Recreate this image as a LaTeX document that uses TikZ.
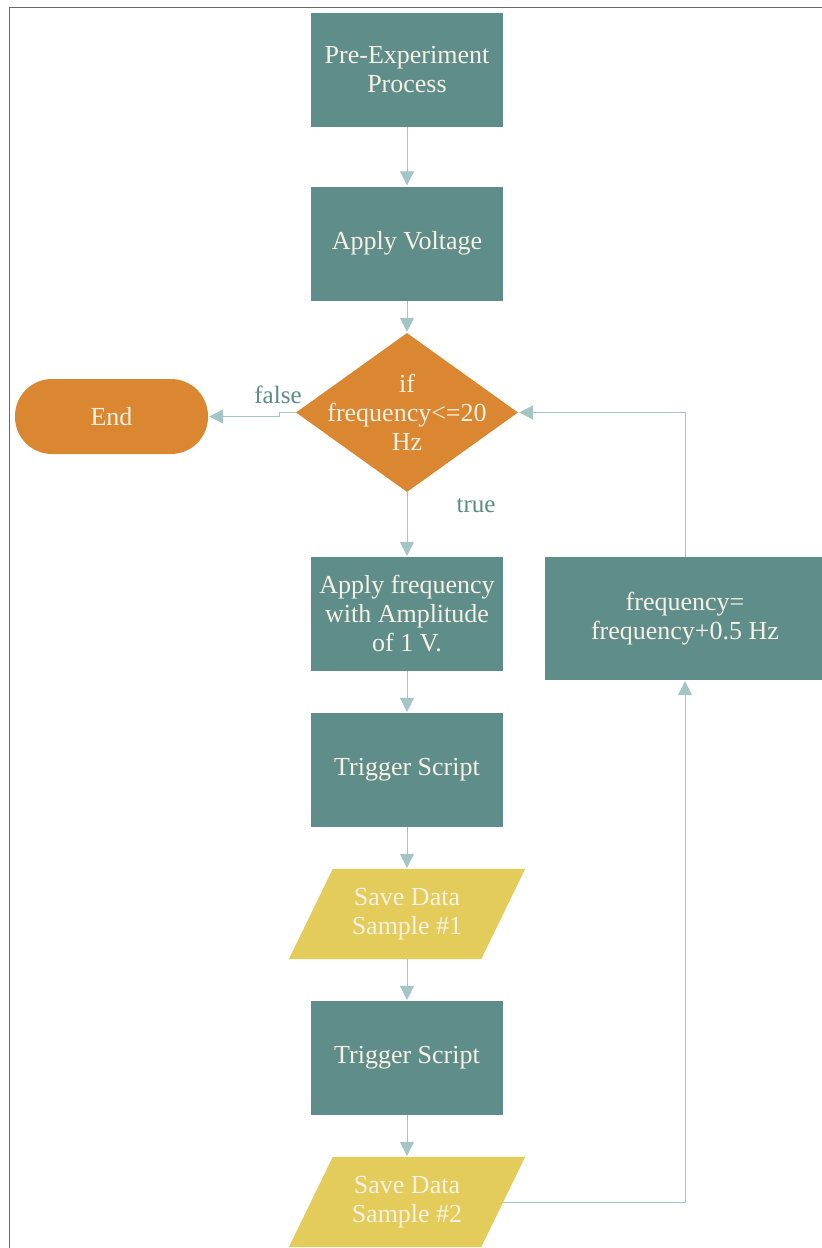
\documentclass[tikz,border=0pt]{standalone}
\usepackage{fontspec}
\setmainfont{Liberation Serif}
\usetikzlibrary{arrows.meta,shapes.geometric,calc}

\definecolor{teal}{HTML}{5F8D89}
\definecolor{amber}{HTML}{DB8731}
\definecolor{mustard}{HTML}{E3CC5A}
\definecolor{wire}{HTML}{A3C5C3}
\definecolor{labelteal}{HTML}{5B8B87}
\definecolor{cream}{HTML}{F6F1E4}
\definecolor{frame}{HTML}{6A6A6A}

\tikzset{
  boxtext/.style={text=cream, font=\fontsize{26}{29}\selectfont, align=center, inner sep=0pt},
  procbox/.style={boxtext, rectangle, fill=teal, minimum width=192pt, minimum height=114pt},
  decision/.style={diamond, fill=amber, inner sep=0pt, minimum width=222pt, minimum height=159pt},
  terminal/.style={boxtext, rectangle, fill=amber, rounded corners=37pt, minimum width=193pt, minimum height=75pt},
  iobox/.style={boxtext, rectangle, minimum width=192pt, minimum height=90pt},
  flowline/.style={draw=wire, line width=1pt, -{Triangle[width=14pt,length=14pt]}, shorten >=1pt},
  edgelabel/.style={text=labelteal, font=\fontsize{25}{29}\selectfont, inner sep=0pt}
}

\begin{document}
\begin{tikzpicture}[x=1pt, y=-1pt]
  \useasboundingbox (0,0) rectangle (822,1248);
  \fill[white] (0,0) rectangle (822,1248);
  \begin{scope}
    \clip (0,0) rectangle (822,1248);

    % outer frame (left and top edges)
    \draw[frame, line width=1.8pt] (9.5,1248) -- (9.5,7.5) -- (822,7.5);

    % main column
    \node[procbox] (pre) at (407,70) {Pre-Experiment\\Process};
    \node[procbox] (volt) at (407,243.5) {Apply Voltage};
    \node[decision] (dec) at (407,412.5) {};
    \node[boxtext] (dectext) at (dec.center) {if\\frequency<=20\\Hz};
    \node[terminal] (stop) at (111.5,416.5) {End};
    \node[procbox] (amp) at (407,614) {Apply frequency\\with Amplitude\\of 1 V.};
    \node[procbox] (trigA) at (407,770) {Trigger Script};
    \node[iobox] (saveA) at (407,914) {};
    \node[procbox] (trigB) at (407,1058) {Trigger Script};
    \node[iobox] (saveB) at (407,1202) {};
    \node[procbox, minimum width=280pt, minimum height=123pt] (incr) at (685,618.5) {frequency=\\frequency+0.5 Hz};

    % data (parallelogram) shapes
    \foreach \n/\t in {saveA/Save Data\\Sample \#1, saveB/Save Data\\Sample \#2} {
      \fill[mustard] ($(\n.north west)+(22,0)$) -- ($(\n.north east)+(22,0)$)
        -- ($(\n.south east)+(-22,0)$) -- ($(\n.south west)+(-22,0)$) -- cycle;
      \node[boxtext] at (\n.center) {\t};
    }

    % connectors
    \draw[flowline] (pre) -- (volt);
    \draw[flowline] (volt) -- (dec);
    \draw[flowline] (dec.west) -- ++(-16,0) |- (stop.east);
    \draw[flowline] (dec) -- (amp);
    \draw[flowline] (amp) -- (trigA);
    \draw[flowline] (trigA) -- (saveA);
    \draw[flowline] (saveA) -- (trigB);
    \draw[flowline] (trigB) -- (saveB);
    \draw[flowline] (saveB.east) -| (incr.south);
    \draw[flowline] (incr.north) |- (dec.east);

    % branch labels
    \node[edgelabel] (lblfalse) at (278,395) {false};
    \node[edgelabel] (lbltrue) at (476,506) {true};
  \end{scope}
\end{tikzpicture}
\end{document}
